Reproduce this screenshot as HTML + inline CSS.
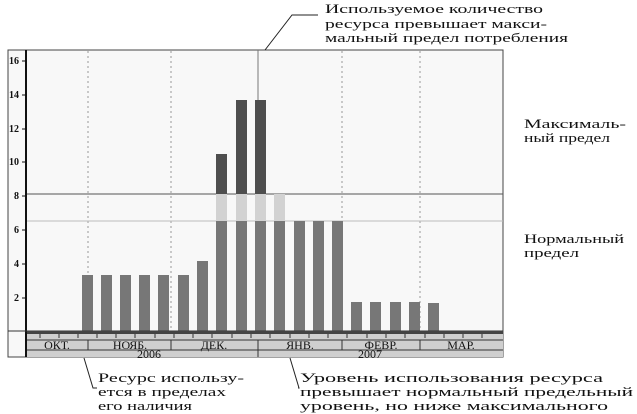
<!DOCTYPE html>
<html><head><meta charset="utf-8"><style>
html,body{margin:0;padding:0;background:#fff;}
svg{display:block;}
text{font-family:"Liberation Serif","DejaVu Serif",serif;fill:#111;}
.t{font-family:"DejaVu Sans","Liberation Sans",sans-serif;font-size:13px;}
.ax{font-family:"DejaVu Sans","Liberation Sans",sans-serif;font-size:10px;font-weight:bold;}
.m{font-size:12px;}
</style></head><body>
<svg width="637" height="414" viewBox="0 0 637 414">
<rect x="8" y="50" width="495" height="307" fill="#f8f8f8" stroke="#444" stroke-width="1"/>
<g stroke="#999" stroke-width="1" stroke-dasharray="2,3">
<line x1="88" y1="51" x2="88" y2="331"/><line x1="171" y1="51" x2="171" y2="331"/>
<line x1="342" y1="51" x2="342" y2="331"/><line x1="420" y1="51" x2="420" y2="331"/>
</g>
<line x1="27" y1="221" x2="503" y2="221" stroke="#bbb"/>
<line x1="27" y1="194" x2="503" y2="194" stroke="#555"/>
<g fill="#777">
<rect x="82" y="275" width="11" height="56"/><rect x="101" y="275" width="11" height="56"/>
<rect x="120" y="275" width="11" height="56"/><rect x="139" y="275" width="11" height="56"/>
<rect x="158" y="275" width="11" height="56"/><rect x="178" y="275" width="11" height="56"/>
<rect x="197" y="261" width="11" height="70"/>
<rect x="216" y="221" width="11" height="110"/><rect x="236" y="221" width="11" height="110"/>
<rect x="255" y="221" width="11" height="110"/><rect x="274" y="221" width="11" height="110"/>
<rect x="294" y="221" width="11" height="110"/><rect x="313" y="221" width="11" height="110"/>
<rect x="332" y="221" width="11" height="110"/>
<rect x="351" y="302" width="11" height="29"/><rect x="370" y="302" width="11" height="29"/>
<rect x="390" y="302" width="11" height="29"/><rect x="409" y="302" width="11" height="29"/>
<rect x="428" y="303" width="11" height="28"/>
</g>
<g fill="#d2d2d2">
<rect x="216" y="194" width="11" height="27"/><rect x="236" y="194" width="11" height="27"/>
<rect x="255" y="194" width="11" height="27"/><rect x="274" y="194" width="11" height="27"/>
</g>
<g fill="#4e4e4e">
<rect x="216" y="154" width="11" height="40"/><rect x="236" y="100" width="11" height="94"/>
<rect x="255" y="100" width="11" height="94"/>
</g>
<line x1="258" y1="50" x2="258" y2="100" stroke="#777"/>
<line x1="26" y1="50" x2="26" y2="357" stroke="#111" stroke-width="2"/>
<g class="ax" text-anchor="start">
<text x="9" y="64">16</text><text x="9" y="98">14</text><text x="9" y="132">12</text>
<text x="9" y="165">10</text><text x="14" y="199">8</text><text x="14" y="233">6</text>
<text x="14" y="267">4</text><text x="14" y="301">2</text>
</g>
<g stroke="#111"><line x1="22" y1="61" x2="26" y2="61"/><line x1="22" y1="95" x2="26" y2="95"/><line x1="22" y1="129" x2="26" y2="129"/><line x1="22" y1="162" x2="26" y2="162"/><line x1="22" y1="196" x2="26" y2="196"/><line x1="22" y1="230" x2="26" y2="230"/><line x1="22" y1="264" x2="26" y2="264"/><line x1="22" y1="298" x2="26" y2="298"/></g>
<line x1="8" y1="331" x2="503" y2="331" stroke="#333"/>
<rect x="27" y="331" width="476" height="3" fill="#444"/>
<rect x="27" y="334" width="476" height="23" fill="#cfcfcf"/>
<line x1="27" y1="340" x2="503" y2="340" stroke="#333"/>
<line x1="27" y1="350" x2="503" y2="350" stroke="#333"/>
<g stroke="#333">
<line x1="88" y1="340" x2="88" y2="350"/><line x1="171" y1="340" x2="171" y2="350"/>
<line x1="258" y1="340" x2="258" y2="357"/><line x1="342" y1="340" x2="342" y2="350"/>
<line x1="420" y1="340" x2="420" y2="350"/>
</g>
<g stroke="#333">
<line x1="40" y1="334" x2="40" y2="338"/><line x1="59" y1="334" x2="59" y2="338"/><line x1="78" y1="334" x2="78" y2="338"/><line x1="97" y1="334" x2="97" y2="338"/><line x1="116" y1="334" x2="116" y2="338"/><line x1="135" y1="334" x2="135" y2="338"/><line x1="155" y1="334" x2="155" y2="338"/><line x1="174" y1="334" x2="174" y2="338"/><line x1="193" y1="334" x2="193" y2="338"/><line x1="212" y1="334" x2="212" y2="338"/><line x1="232" y1="334" x2="232" y2="338"/><line x1="251" y1="334" x2="251" y2="338"/><line x1="270" y1="334" x2="270" y2="338"/><line x1="290" y1="334" x2="290" y2="338"/><line x1="309" y1="334" x2="309" y2="338"/><line x1="328" y1="334" x2="328" y2="338"/><line x1="347" y1="334" x2="347" y2="338"/><line x1="367" y1="334" x2="367" y2="338"/><line x1="386" y1="334" x2="386" y2="338"/><line x1="405" y1="334" x2="405" y2="338"/><line x1="425" y1="334" x2="425" y2="338"/><line x1="444" y1="334" x2="444" y2="338"/><line x1="463" y1="334" x2="463" y2="338"/><line x1="482" y1="334" x2="482" y2="338"/>
</g>
<g class="m" text-anchor="middle">
<text x="57" y="349">ОКТ.</text><text x="130" y="349">НОЯБ.</text><text x="214" y="349">ДЕК.</text>
<text x="300" y="349">ЯНВ.</text><text x="381" y="349">ФЕВР.</text><text x="461" y="349">МАР.</text>
<text x="149" y="358">2006</text><text x="370" y="358">2007</text>
</g>
<g stroke="#222" fill="none" stroke-width="1">
<polyline points="265,50 292,15 318,15"/>
<polyline points="84,358 93,388 97,388"/>
<polyline points="290,358 299,388 298,388"/>
</g>
<g class="t">
<text x="325" y="13" textLength="218" lengthAdjust="spacingAndGlyphs">Используемое количество</text>
<text x="325" y="28" textLength="222" lengthAdjust="spacingAndGlyphs">ресурса превышает макси-</text>
<text x="325" y="42" textLength="243" lengthAdjust="spacingAndGlyphs">мальный предел потребления</text>
<text x="524" y="128" textLength="102" lengthAdjust="spacingAndGlyphs">Максималь-</text>
<text x="524" y="142" textLength="86" lengthAdjust="spacingAndGlyphs">ный предел</text>
<text x="524" y="243" textLength="100" lengthAdjust="spacingAndGlyphs">Нормальный</text>
<text x="524" y="257" textLength="55" lengthAdjust="spacingAndGlyphs">предел</text>
<text x="98" y="382" textLength="146" lengthAdjust="spacingAndGlyphs">Ресурс использу-</text>
<text x="98" y="396" textLength="128" lengthAdjust="spacingAndGlyphs">ется в пределах</text>
<text x="98" y="410" textLength="94" lengthAdjust="spacingAndGlyphs">его наличия</text>
<text x="300" y="382" textLength="303" lengthAdjust="spacingAndGlyphs">Уровень использования ресурса</text>
<text x="300" y="396" textLength="333" lengthAdjust="spacingAndGlyphs">превышает нормальный предельный</text>
<text x="300" y="410" textLength="308" lengthAdjust="spacingAndGlyphs">уровень, но ниже максимального</text>
</g>
</svg>
</body></html>
